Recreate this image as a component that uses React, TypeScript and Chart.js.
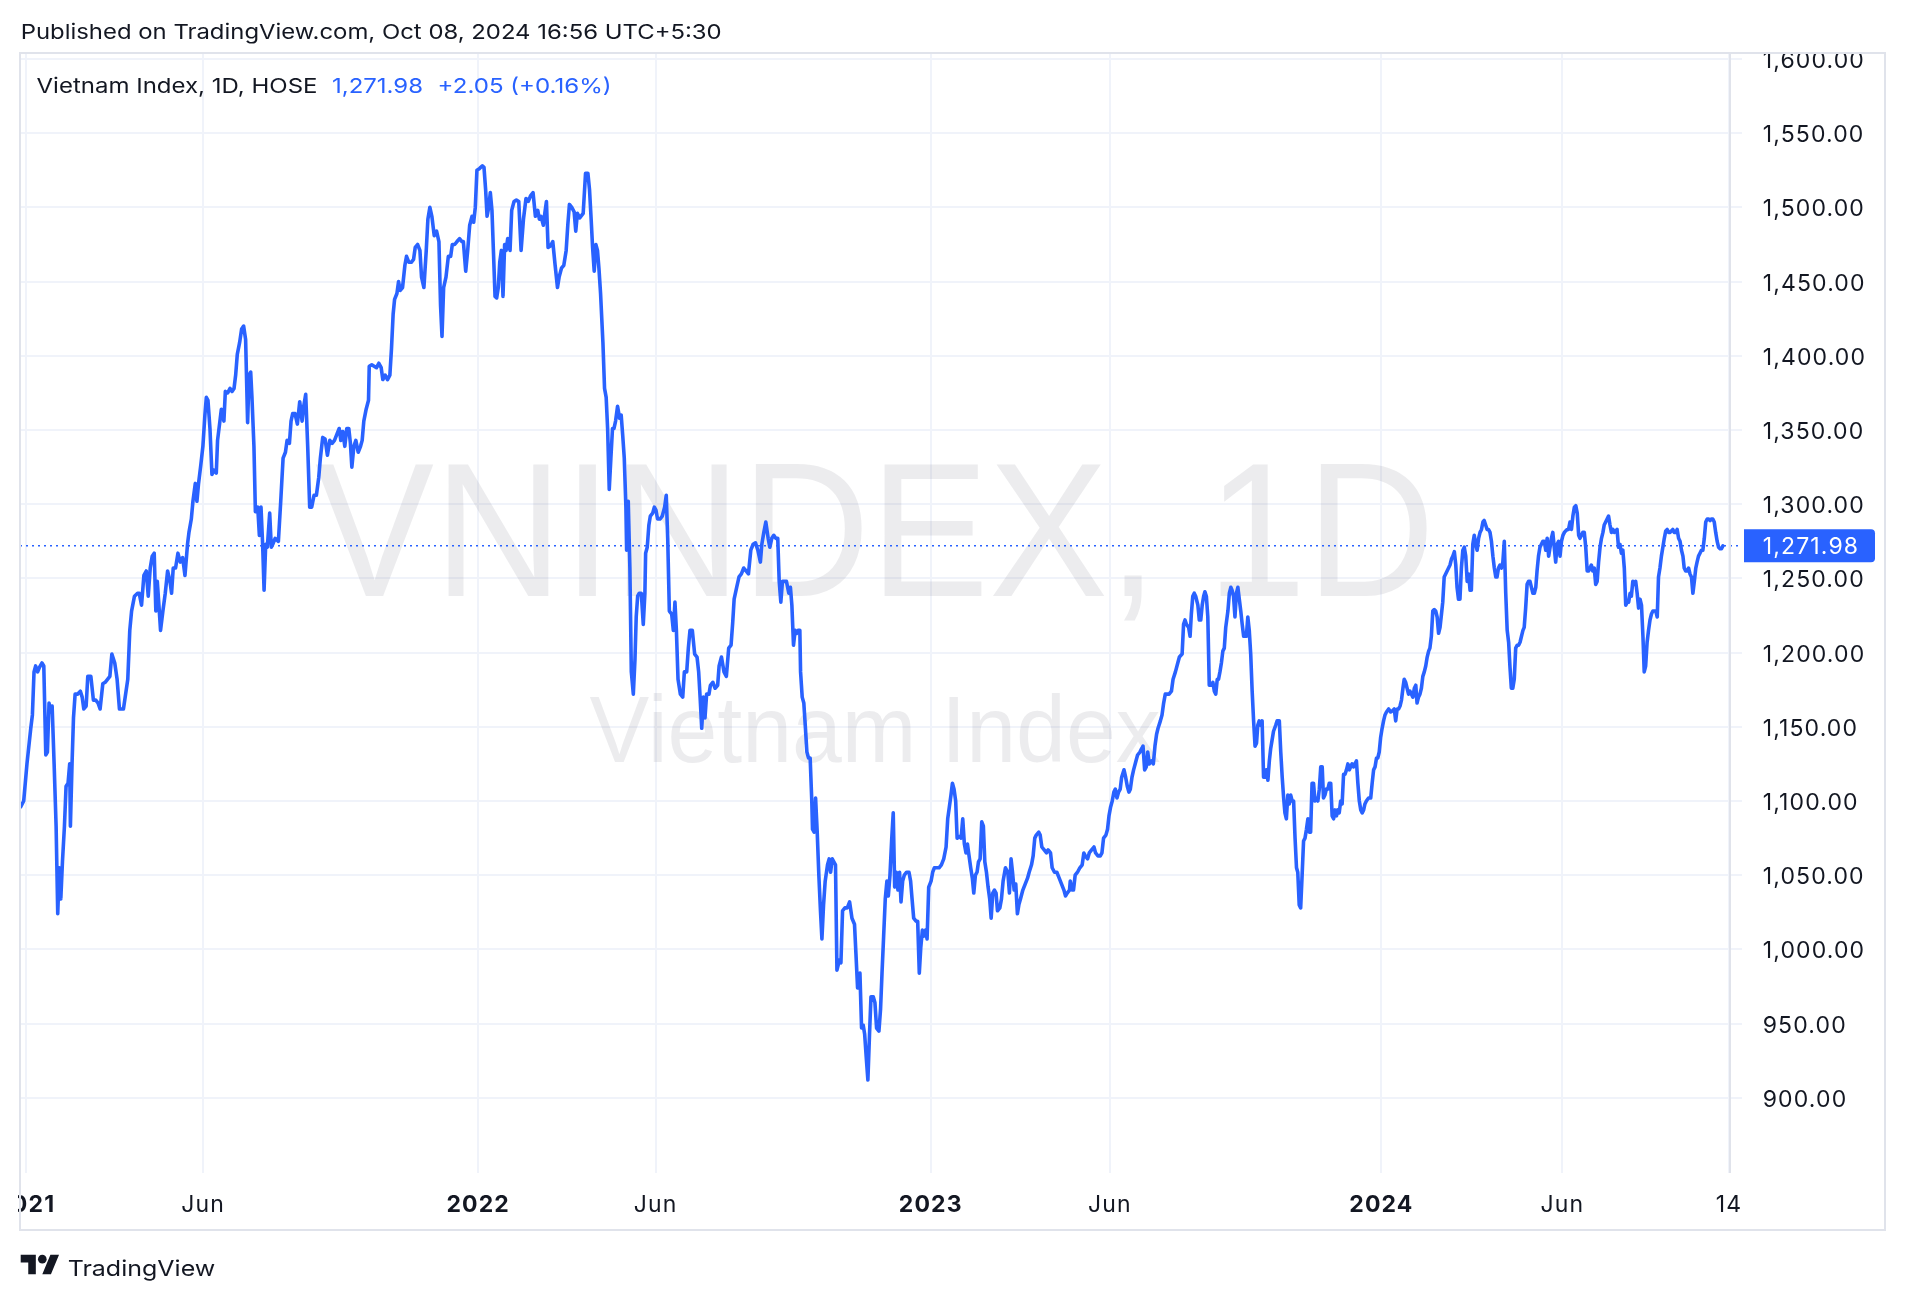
import React, { useEffect, useMemo, useRef } from 'react';
import { Chart, registerables } from 'chart.js';

Chart.register(...registerables);

// ---------------- data ----------------
// [trading-bar index from first session of 2021, close]
const closes2021: [number, number][] = [
[-2.8,1096],[-1.1,1100],[0.7,1125],[2.8,1149],[3.7,1158],[4.6,1187],[5.5,1191],[6.6,1187],[7.6,1190],[9.0,1193],
[10.0,1191],[11.1,1131],[12.0,1133],[12.9,1166],[13.8,1160],[14.6,1164],[15.7,1125],[16.8,1083],[17.7,1024],[18.6,1055],
[19.4,1034],[20.3,1059],[21.4,1083],[22.3,1110],[23.4,1112],[24.3,1125],[24.7,1083],[25.6,1125],[26.4,1156],[27.3,1172],
[28.6,1172],[30.2,1174],[31.2,1170],[32.1,1162],[33.4,1164],[34.3,1184],[36.0,1184],[37.4,1168],[38.7,1168],[40.0,1166],
[41.1,1162],[42.6,1179],[43.9,1180],[45.2,1182],[46.5,1184],[47.6,1199],[49.2,1193],[50.5,1182],[51.8,1162],[54.0,1162],
[56.4,1182],[57.5,1215],[58.5,1228],[60.1,1238],[61.8,1240],[62.7,1240],[64.0,1232],[65.3,1252],[66.6,1255],[67.7,1238],
[68.8,1257],[69.9,1265],[71.0,1267],[71.9,1228],[72.7,1248],[73.6,1232],[74.5,1215],[75.8,1228],[77.1,1240],[78.4,1255],
[79.7,1248],[80.6,1240],[81.5,1257],[82.8,1257],[84.1,1267],[85.4,1261],[86.7,1264],[88.0,1252],[89.4,1273],[90.2,1281],
[91.5,1290],[92.4,1302],[93.7,1314],[94.6,1302],[95.5,1314],[96.8,1327],[97.9,1339],[99.0,1360],[99.8,1372],[100.7,1370],
[101.8,1351],[102.9,1320],[104.0,1323],[105.3,1321],[106.0,1343],[107.3,1356],[108.1,1364],[109.5,1356],[110.3,1376],[111.6,1375],
[112.9,1378],[114.0,1376],[115.1,1378],[116.0,1387],[116.9,1401],[118.2,1409],[119.3,1418],[120.4,1420],[121.5,1411],[122.6,1355],
[123.4,1387],[124.3,1389],[125.0,1372],[126.1,1339],[126.9,1295],[128.2,1298],[129.1,1279],[130.0,1298],[130.9,1273],[131.7,1242],
[132.6,1273],[133.5,1271],[134.8,1294],[135.7,1271],[136.5,1273],[137.8,1277],[139.6,1275],[140.9,1302],[142.2,1331],[143.5,1335],
[144.4,1343],[145.7,1341],[146.6,1356],[147.5,1361],[148.8,1361],[150.1,1354],[151.4,1369],[152.7,1356],[153.6,1366],[154.7,1374],
[155.8,1339],[156.9,1298],[158.0,1298],[159.3,1306],[160.6,1306],[161.9,1318],[162.8,1331],[164.1,1345],[165.4,1344],[166.7,1333],
[168.0,1343],[169.3,1341],[170.6,1343],[171.9,1347],[173.2,1351],[174.1,1343],[175.2,1349],[176.3,1339],[177.4,1351],[178.5,1351],
[179.4,1341],[180.2,1325],[181.3,1339],[182.4,1343],[183.7,1335],[185.0,1339],[185.9,1343],[186.8,1356],[188.1,1364],[189.4,1370],
[189.8,1393],[191.2,1394],[192.5,1393],[193.8,1392],[195.1,1395],[196.4,1392],[197.3,1384],[198.6,1387],[199.9,1384],[201.2,1387],
[202.1,1405],[203.0,1428],[203.8,1438],[205.1,1442],[206.0,1450],[206.9,1444],[208.2,1446],[209.5,1461],[210.4,1467],[211.7,1463],
[213.0,1463],[214.3,1465],[215.2,1473],[216.5,1475],[217.8,1471],[218.7,1453],[220.0,1446],[221.3,1471],[222.2,1492],[223.3,1500],
[224.4,1494],[225.7,1481],[227.0,1484],[228.3,1477],[229.2,1434],[230.0,1413],[230.9,1446],[232.2,1453],[233.5,1467],[234.8,1467],
[235.7,1475],[237.0,1475],[238.3,1477],[239.7,1479],[241.0,1477],[241.8,1477],[243.1,1457],[244.2,1471],[245.3,1488],[246.6,1494],
[247.5,1490],[248.4,1500],[249.3,1525]
];

const closes2022: [number, number][] = [
[250.6,1526],[251.4,1527],[252.3,1528],[253.2,1527],[254.1,1512],[254.9,1494],[255.8,1500],[256.7,1510],[257.6,1498],[258.4,1471],
[259.3,1440],[260.2,1439],[261.1,1446],[261.9,1463],[262.8,1471],[263.7,1440],[264.6,1475],[265.4,1471],[266.3,1479],[267.6,1471],
[268.5,1498],[269.8,1504],[271.1,1505],[272.4,1504],[273.7,1471],[275.0,1492],[276.4,1506],[277.7,1504],[279.0,1508],[280.3,1510],
[281.6,1494],[282.9,1498],[283.8,1492],[284.7,1494],[286.0,1488],[286.8,1496],[287.7,1504],[288.6,1473],[289.9,1474],[291.2,1477],
[292.5,1461],[293.8,1446],[294.7,1453],[296.0,1459],[297.3,1461],[298.6,1471],[299.5,1488],[300.4,1502],[301.7,1500],[303.0,1497],
[303.9,1484],[304.8,1496],[306.1,1493],[308.0,1496],[309.3,1523],[310.6,1523],[311.5,1512],[312.4,1492],[313.2,1473],[314.1,1457],
[315.0,1475],[315.9,1471],[316.7,1459],[317.6,1442],[318.9,1409],[319.8,1378],[320.7,1372],[321.5,1351],[322.4,1310],[323.3,1331],
[324.2,1351],[325.0,1351],[325.9,1356],[327.0,1366],[328.1,1358],[329.0,1360],[329.8,1347],[330.7,1331],[331.6,1298],[332.0,1269],
[332.9,1302],[333.8,1257],[334.6,1187],[335.7,1172],[336.6,1195],[337.3,1224],[338.1,1238],[339.0,1240],[340.1,1240],[341.2,1219],
[342.1,1240],[342.5,1267],[343.4,1271],[344.3,1286],[345.1,1292],[346.4,1294],[347.3,1298],[348.2,1296],[349.1,1290],[350.4,1290],
[351.7,1292],[353.0,1298],[353.9,1306],[354.7,1277],[355.6,1228],[356.9,1226],[357.8,1215],[358.7,1234],[359.5,1215],[360.4,1182],
[361.7,1172],[363.0,1170],[363.9,1187],[365.2,1187],[366.1,1203],[367.0,1215],[368.3,1215],[369.6,1199],[370.9,1197],[371.8,1187],
[372.6,1170],[373.5,1149],[374.4,1170],[375.3,1156],[376.2,1172],[377.5,1172],[378.3,1178],[379.6,1180],[380.9,1176],[382.3,1178],
[383.1,1191],[384.4,1197],[385.8,1187],[387.1,1184],[388.4,1203],[389.7,1205],[390.6,1220],[391.4,1236],[392.8,1244],[394.1,1251],
[395.4,1253],[396.7,1257],[398.0,1255],[399.3,1253],[400.6,1269],[401.9,1273],[403.2,1274],[404.5,1269],[405.9,1261],[406.7,1273],
[407.8,1281],[408.9,1288],[410.2,1277],[411.1,1271],[412.2,1277],[413.3,1279],[414.4,1277],[415.5,1277],[416.3,1248],[417.2,1234],
[418.1,1248],[419.0,1248],[420.3,1248],[421.6,1240],[422.5,1244],[423.3,1232],[424.2,1205],[425.1,1215],[426.0,1213],[426.8,1215],
[427.7,1215],[428.1,1187],[429.0,1170],[429.9,1166],[430.8,1149],[431.6,1133],[432.5,1129],[433.4,1129],[434.3,1100],[434.7,1081],
[435.6,1079],[436.4,1102],[437.3,1079],[438.2,1050],[439.1,1026],[439.9,1007],[440.8,1030],[441.7,1046],[443.0,1057],[443.9,1061],
[444.7,1052],[445.6,1061],[446.5,1059],[447.4,1057],[448.2,986],[449.6,993],[450.4,991],[451.3,1026],[452.6,1028],[453.9,1028],
[455.2,1032],[456.5,1021],[457.9,1017],[458.7,997],[459.6,974],[460.9,984],[461.8,947],[462.7,949],[463.5,943],[464.4,927],
[465.3,912],[466.2,943],[467.0,968],[468.3,968],[469.2,964],[470.1,947],[471.4,945],[472.3,960],[473.1,984],[474.0,1009],
[474.9,1034],[475.8,1046],[476.6,1036],[477.5,1050],[478.4,1073],[479.3,1092],[480.1,1042],[481.0,1052],[481.9,1040],[482.8,1052],
[483.6,1032],[484.5,1046],[485.4,1050],[486.7,1052],[488.0,1052],[488.9,1046],[489.7,1034],[490.6,1021],[491.9,1019],[492.8,1019],
[493.7,984],[494.5,1001],[495.4,1013],[496.3,1009],[497.2,1013],[498.0,1007],[498.9,1042]
];

const closes2023: [number, number][] = [
[500.2,1046],[501.1,1052],[502.0,1055],[503.3,1055],[504.6,1055],[505.9,1057],[507.2,1061],[508.5,1069],[509.4,1088],[510.3,1096],
[511.2,1104],[512.0,1112],[512.9,1108],[513.8,1100],[514.6,1075],[515.9,1076],[516.8,1075],[517.7,1088],[518.6,1071],[519.5,1065],
[520.3,1071],[521.2,1063],[522.1,1055],[523.0,1048],[523.8,1038],[524.7,1050],[525.6,1052],[526.4,1059],[527.3,1061],[528.2,1086],
[529.1,1083],[529.9,1059],[530.8,1052],[531.7,1042],[532.6,1034],[533.4,1021],[534.3,1038],[535.2,1040],[536.1,1038],[536.9,1026],
[538.2,1028],[539.1,1034],[540.0,1046],[541.3,1055],[542.6,1052],[543.5,1038],[544.4,1061],[545.2,1052],[546.1,1040],[547.0,1044],
[547.9,1024],[548.7,1030],[549.6,1034],[550.9,1040],[552.2,1044],[553.5,1048],[554.4,1052],[555.7,1057],[556.6,1063],[557.5,1075],
[558.3,1077],[559.7,1079],[560.5,1077],[561.4,1069],[562.7,1067],[564.0,1065],[564.9,1067],[566.2,1065],[567.1,1055],[568.4,1052],
[569.7,1052],[571.0,1048],[572.3,1044],[573.6,1040],[574.5,1036],[575.4,1038],[576.7,1040],[577.1,1046],[578.0,1040],[578.9,1040],
[579.8,1050],[581.1,1052],[582.4,1055],[583.7,1057],[584.6,1065],[585.4,1063],[586.7,1061],[587.6,1065],[588.9,1067],[590.2,1069],
[591.1,1065],[592.4,1063],[593.7,1063],[594.6,1065],[595.5,1075],[596.8,1077],[597.7,1081],[598.5,1090],[599.4,1096],[600.3,1100],
[601.2,1106],[602.0,1108],[602.9,1102],[603.8,1106],[604.7,1108],[605.5,1116],[606.8,1121],[607.7,1116],[608.6,1110],[609.5,1106],
[610.3,1108],[611.2,1116],[612.1,1121],[613.4,1127],[614.3,1131],[615.6,1133],[616.4,1135],[617.3,1137],[618.2,1121],[619.1,1123],
[619.9,1133],[620.8,1125],[622.1,1127],[623.0,1125],[623.9,1137],[624.8,1145],[625.6,1149],[626.9,1154],[627.8,1158],[628.7,1166],
[629.6,1172],[630.4,1172],[631.7,1172],[633.0,1174],[633.9,1182],[635.2,1187],[636.5,1193],[637.4,1197],
[638.9,1199],[639.7,1219],[640.5,1222],[641.3,1219],[642.5,1217],[643.3,1211],[644.0,1226],[644.8,1238],[645.6,1240],[646.4,1238],
[647.6,1232],[648.4,1222],[649.2,1222],[650.0,1232],[650.8,1238],[651.5,1241],[652.3,1238],[653.1,1224],[653.9,1178],[655.1,1178],
[655.9,1180],[656.7,1174],[657.5,1172],[658.3,1182],[659.0,1182],[659.8,1187],[660.6,1193],[661.4,1201],[662.2,1203],[663.0,1217],
[664.2,1228],[665.0,1240],[665.8,1244],[666.5,1242],[667.3,1238],[668.1,1224],[668.9,1240],[669.7,1244],[670.5,1236],[671.3,1228],
[672.1,1219],[672.9,1211],[673.6,1211],[674.4,1211],[675.2,1224],[676.0,1215],[676.8,1199],[677.6,1174],[678.4,1154],[679.2,1137],
[680.0,1139],[680.7,1151],[681.5,1154],[682.3,1151],[683.1,1154],[683.9,1116],[684.7,1116],[685.5,1121],[686.3,1114],[687.1,1127],
[687.8,1135],[688.6,1141],[689.4,1147],[690.6,1151],[691.4,1154],[692.6,1154],[693.4,1133],[694.2,1116],[695.0,1102],[695.7,1092],
[696.5,1088],[697.3,1104],[698.1,1098],[698.9,1104],[699.7,1100],[700.5,1100],[701.3,1075],[702.1,1055],[702.8,1052],[703.6,1030],
[704.4,1028],[705.2,1050],[706.0,1073],[706.8,1075],[707.6,1081],[708.4,1088],[709.2,1079],[709.9,1079],[710.7,1112],[711.5,1112],
[712.3,1100],[713.1,1102],[713.9,1100],[714.7,1108],[715.5,1123],[716.3,1123],[717.0,1102],[717.8,1104],[718.6,1108],[719.4,1108],
[720.2,1112],[721.0,1112],[721.8,1090],[722.6,1088],[723.4,1094],[724.2,1090],[724.9,1094],[725.7,1092],[726.5,1100],[727.3,1098],
[728.1,1118],[728.9,1118],[729.7,1121],[730.5,1125],[731.3,1121],[732.0,1123],[732.8,1125],[733.6,1123],[734.4,1125],[735.2,1127],
[736.0,1112],[736.8,1100],[737.6,1094],[738.4,1092],[739.2,1094],[739.9,1098],[740.7,1100],[741.9,1102],[743.1,1102],[743.9,1112],
[744.7,1121],[745.5,1123],[746.3,1129],[747.0,1129],[747.8,1133],[748.6,1143]
];

const closes2024: [number, number][] = [
[749.4,1149],[750.2,1154],[751.0,1158],[751.8,1160],[753.0,1162],[754.1,1160],[755.3,1161],[756.1,1162],[756.9,1154],[757.7,1162],
[758.5,1162],[759.3,1164],[760.1,1168],[760.9,1176],[761.6,1182],[762.4,1180],[763.2,1176],[764.0,1172],[764.8,1174],[765.6,1172],
[766.4,1170],[767.2,1176],[768.0,1178],[768.7,1166],[769.5,1170],[770.3,1172],[771.1,1176],[771.9,1184],[772.7,1187],[773.5,1191],
[774.3,1197],[775.1,1201],[775.8,1203],[776.6,1211],[777.4,1228],[778.2,1229],[779.0,1228],[779.8,1224],[780.6,1213],[781.4,1217],
[782.2,1226],[782.9,1234],[783.7,1251],[784.5,1253],[785.3,1255],[786.1,1257],[786.9,1259],[787.7,1263],[788.5,1265],[789.3,1268],
[790.1,1259],[790.8,1244],[791.6,1236],[792.4,1236],[793.2,1257],[794.0,1269],[794.8,1271],[795.6,1265],[796.4,1248],[797.2,1253],
[798.0,1242],[798.7,1242],[799.5,1273],[800.3,1279],[801.1,1273],[801.9,1269],[802.7,1277],[803.5,1281],[804.3,1283],[805.1,1288],
[805.8,1289],[806.6,1286],[807.4,1283],[808.2,1283],[809.0,1281],[809.8,1275],[810.6,1265],[811.4,1257],[812.2,1251],[812.9,1251],
[813.7,1257],[814.5,1259],[815.3,1257],[816.1,1261],[816.9,1275],[817.7,1240],[818.5,1215],[819.3,1207],[820.0,1191],[820.8,1176],
[821.6,1176],[822.4,1182],[823.2,1203],[824.0,1205],[824.8,1205],[825.6,1207],[826.4,1211],[827.2,1215],[827.9,1217],[828.7,1230],
[829.5,1246],[830.3,1248],[831.1,1248],[831.9,1244],[832.7,1240],[833.5,1240],[834.3,1244],[835.0,1255],[835.8,1265],[836.6,1271],
[837.4,1273],[838.2,1275],[839.0,1275],[839.8,1269],[840.6,1277],[841.4,1265],[842.2,1271],[842.9,1277],[843.7,1281],[844.5,1271],
[845.3,1261],[846.1,1273],[846.9,1275],[847.7,1265],[848.5,1275],[849.3,1279],[850.1,1281],[850.8,1282],[851.6,1283],[852.4,1283],
[853.2,1288],[854.0,1283],[854.8,1292],[855.6,1298],[856.4,1299],[857.2,1294],[858.0,1279],[858.7,1277],[859.5,1279],[860.3,1281],
[861.1,1281],[861.9,1271],[862.7,1255],[863.5,1255],[864.3,1257],[865.0,1259],[865.8,1255],[866.6,1257],[867.4,1246],[868.2,1248],
[869.0,1261],[869.8,1271],[870.6,1277],[871.4,1281],[872.1,1286],[872.9,1288],[873.7,1290],[874.5,1292],[875.3,1286],[876.1,1281],
[876.9,1283],[877.7,1281],[879.2,1283],[880.0,1271],[880.8,1273],[881.6,1267],[882.4,1269],[883.2,1257],[884.0,1232],[884.8,1234],
[885.6,1234],[886.4,1240],[887.1,1238],[887.9,1248],[888.7,1246],[889.5,1248],[890.3,1240],[891.1,1230],[891.9,1236],[892.7,1232],
[893.5,1211],[894.2,1187],[895.0,1191],[895.8,1207],[896.6,1215],[897.4,1222],[898.2,1226],[899.0,1228],[899.8,1228],[900.6,1228],
[901.4,1224],[902.1,1251],[902.9,1257],[903.7,1265],[904.5,1271],[905.3,1277],[906.1,1282],[906.9,1283],[907.7,1281],[908.5,1281],
[909.2,1282],[910.0,1283],[910.8,1281],[911.6,1281],[912.4,1283],[913.2,1277],[914.0,1275],[914.8,1269],[915.6,1265],[916.3,1257],
[917.1,1255],[917.9,1255],[918.7,1257],[919.5,1253],[920.3,1251],[921.1,1240],[921.9,1248],[922.7,1257],[923.4,1261],[924.2,1265],
[925.0,1267],[925.8,1269],[926.6,1269],[927.4,1277],[928.2,1288],[929.0,1290],[929.8,1290],[930.6,1289],[931.3,1290],[932.1,1290],
[932.9,1288],[933.7,1281],[934.5,1275],[935.3,1271],[936.1,1270],[936.9,1270],[937.7,1271.98]
];

const yTickValues = [900, 950, 1000, 1050, 1100, 1150, 1200, 1250, 1300, 1350, 1400, 1450, 1500, 1550, 1600];
const xTickBars = [0, 98, 250, 348, 500, 599, 749, 849, 941];
const xTickLabels = ['2021', 'Jun', '2022', 'Jun', '2023', 'Jun', '2024', 'Jun', '14'];
const xTickIsYear = [true, false, true, false, true, false, true, false, false];

const lastClose = 1271.98;
const lastChange = '+2.05 (+0.16%)';
const seriesTitle = 'Vietnam Index, 1D, HOSE';
const watermarkMain = 'VNINDEX, 1D';
const watermarkSub = 'Vietnam Index';
const publishedText = 'Published on TradingView.com, Oct 08, 2024 16:56 UTC+5:30';
const brandText = 'TradingView';

// ---------------- styling ----------------
const W = 1906;
const H = 1300;
const FONT = 'Inter, "Noto Sans", "Liberation Sans", sans-serif';
const WM_FONT = '"Liberation Sans", Arial, sans-serif';
const BLUE = '#2962FF';
const TEXT = '#131722';
const GRID = '#F0F3FA';
const BORDER = '#E0E3EB';
const X_MIN = -3.15;
const X_MAX = 941.6;
const Y_MIN = 849.33;
const Y_MAX = 1604.04;
const AXIS_SIZE = 23;

const fmt = (v: number) =>
  v.toLocaleString('en-US', { minimumFractionDigits: 2, maximumFractionDigits: 2 });

function measureWidth(text: string, font: string): number {
  const c = document.createElement('canvas').getContext('2d') as CanvasRenderingContext2D;
  c.font = font;
  return c.measureText(text).width;
}

export default function App() {
  const canvasRef = useRef<HTMLCanvasElement>(null);

  const axisSpacing = useMemo(() => {
    const w0 = measureWidth('1,550.00', `400 ${AXIS_SIZE}px ${FONT}`);
    return Math.max(0, (100.6 - w0) / 7);
  }, []);

  useEffect(() => {
    const canvas = canvasRef.current as HTMLCanvasElement;
    const points = [...closes2021, ...closes2022, ...closes2023, ...closes2024].map(([x, y]) => ({ x, y }));

    const decor = {
      id: 'tvDecor',
      beforeDraw(chart: any) {
        (chart.ctx as any).letterSpacing = `${axisSpacing}px`;
      },
      beforeDatasetsDraw(chart: any) {
        const { ctx, chartArea: a } = chart;
        const cx = (a.left + a.right) / 2;
        const cy = (a.top + a.bottom) / 2;
        ctx.save();
        (ctx as any).letterSpacing = '0px';
        ctx.fillStyle = 'rgba(120,123,134,0.14)';
        ctx.textAlign = 'center';
        ctx.textBaseline = 'alphabetic';
        const drawFitted = (text: string, capH: number, width: number, baseY: number) => {
          const size = capH / 0.716;
          ctx.font = `400 ${size}px ${WM_FONT}`;
          const w = ctx.measureText(text).width;
          ctx.save();
          ctx.translate(cx, baseY);
          ctx.scale(width / w, 1);
          ctx.fillText(text, 0, 0);
          ctx.restore();
        };
        drawFitted(watermarkMain, 137, 1120, cy - 17);
        drawFitted(watermarkSub, 67.5, 571, cy + 148.5);
        ctx.restore();
      },
      afterDatasetsDraw(chart: any) {
        const { ctx, chartArea: a } = chart;
        const py = chart.scales.y.getPixelForValue(lastClose);
        ctx.save();
        ctx.strokeStyle = BLUE;
        ctx.lineWidth = 1.5;
        ctx.setLineDash([2, 4]);
        ctx.beginPath();
        ctx.moveTo(a.left, py);
        ctx.lineTo(a.right + 8, py);
        ctx.stroke();
        ctx.restore();
      },
      afterDraw(chart: any) {
        const { ctx, chartArea: a } = chart;
        const ys = chart.scales.y;
        const xs = chart.scales.x;
        ctx.save();
        ctx.fillStyle = '#ffffff';
        ctx.fillRect(a.right + 1, 0, W - a.right, a.top);
        ctx.fillRect(0, a.bottom + 1, 18, H - a.bottom);
        ctx.strokeStyle = BORDER;
        ctx.lineWidth = 2;
        ctx.strokeRect(a.left, a.top, ys.right - a.left, xs.bottom - a.top);
        ctx.beginPath();
        ctx.moveTo(a.right, a.top);
        ctx.lineTo(a.right, a.bottom);
        ctx.stroke();
        const py = ys.getPixelForValue(lastClose);
        ctx.fillStyle = BLUE;
        ctx.beginPath();
        if ((ctx as any).roundRect) {
          (ctx as any).roundRect(a.right + 14, py - 16.5, 131, 33, [0, 4, 4, 0]);
        } else {
          ctx.rect(a.right + 14, py - 16.5, 131, 33);
        }
        ctx.fill();
        ctx.fillStyle = '#ffffff';
        ctx.font = `400 ${AXIS_SIZE}px ${FONT}`;
        (ctx as any).letterSpacing = `${axisSpacing}px`;
        ctx.textAlign = 'left';
        ctx.textBaseline = 'middle';
        ctx.fillText(fmt(lastClose), a.right + 12 + 20.7, py + 1.5);
        ctx.restore();
        (ctx as any).letterSpacing = '0px';
      },
    };

    const chart = new Chart(canvas, {
      type: 'line',
      data: {
        datasets: [
          {
            data: points,
            borderColor: BLUE,
            borderWidth: 3.6,
            pointRadius: 0,
            tension: 0,
            fill: false,
            borderJoinStyle: 'round',
            borderCapStyle: 'round',
          } as any,
        ],
      },
      options: {
        animation: false,
        responsive: false,
        maintainAspectRatio: false,
        devicePixelRatio: 1,
        events: [],
        layout: { autoPadding: false, padding: { left: 20, top: 53, right: 21, bottom: 70 } } as any,
        plugins: { legend: { display: false }, tooltip: { enabled: false } },
        scales: {
          x: {
            type: 'linear',
            position: 'bottom',
            min: X_MIN,
            max: X_MAX,
            bounds: 'data',
            afterBuildTicks: (s: any) => {
              s.ticks = xTickBars.map((v) => ({ value: v }));
            },
            afterFit: (s: any) => {
              s.height = 57;
              s.paddingLeft = 0;
              s.paddingRight = 0;
            },
            grid: { color: GRID, lineWidth: 2, drawTicks: false },
            border: { display: false },
            ticks: {
              autoSkip: false,
              maxRotation: 0,
              minRotation: 0,
              padding: 32 - (AXIS_SIZE * 1.2) / 2,
              color: TEXT,
              font: (c: any) => ({
                family: FONT,
                size: AXIS_SIZE,
                weight: xTickIsYear[c.index] ? 'bold' : 'normal',
                lineHeight: 1.2,
              }),
              callback: (_v: any, i: number) => xTickLabels[i],
            },
          } as any,
          y: {
            type: 'linear',
            position: 'right',
            min: Y_MIN,
            max: Y_MAX,
            bounds: 'data',
            afterBuildTicks: (s: any) => {
              s.ticks = yTickValues.map((v) => ({ value: v }));
            },
            afterFit: (s: any) => {
              s.width = 155;
              s.paddingTop = 0;
              s.paddingBottom = 0;
            },
            grid: { color: GRID, lineWidth: 2, drawTicks: true, tickLength: 12, tickColor: GRID },
            border: { display: false },
            ticks: {
              padding: 20.7,
              labelOffset: 2,
              color: TEXT,
              font: { family: FONT, size: AXIS_SIZE, lineHeight: 1.2 },
              callback: (v: any) => fmt(Number(v)),
            },
          } as any,
        },
      },
      plugins: [decor as any],
    });
    return () => chart.destroy();
  }, [axisSpacing]);

  return (
    <div style={{ position: 'absolute', left: 0, top: 0, width: W, height: H, background: '#ffffff', overflow: 'hidden' }}>
      <canvas
        ref={canvasRef}
        width={W}
        height={H}
        style={{ position: 'absolute', left: 0, top: 0, width: W, height: H }}
      />
      <svg
        width={W}
        height={H}
        style={{ position: 'absolute', left: 0, top: 0, pointerEvents: 'none' }}
        fontFamily={FONT}
      >
        <text x={20.7} y={39} fontSize={20.5} fill={TEXT} textLength={701} lengthAdjust="spacingAndGlyphs">
          {publishedText}
        </text>
        <text x={36.5} y={93} fontSize={20.5} fill={TEXT} textLength={281} lengthAdjust="spacingAndGlyphs">
          {seriesTitle}
        </text>
        <text x={332} y={93} fontSize={20.5} fill={BLUE} textLength={91} lengthAdjust="spacingAndGlyphs">
          {fmt(lastClose)}
        </text>
        <text x={437.6} y={93} fontSize={20.5} fill={BLUE} textLength={174} lengthAdjust="spacingAndGlyphs">
          {lastChange}
        </text>
        <g transform="translate(20.7,1250.5) scale(1.08)" fill={TEXT}>
          <path d="M14 22H7V11H0V4h14v18zM28 22h-8l7.5-18h8L28 22z" />
          <circle cx="20" cy="8" r="4" />
        </g>
        <text x={67.7} y={1276} fontSize={22} fill={TEXT} textLength={147.6} lengthAdjust="spacingAndGlyphs">
          {brandText}
        </text>
      </svg>
    </div>
  );
}
